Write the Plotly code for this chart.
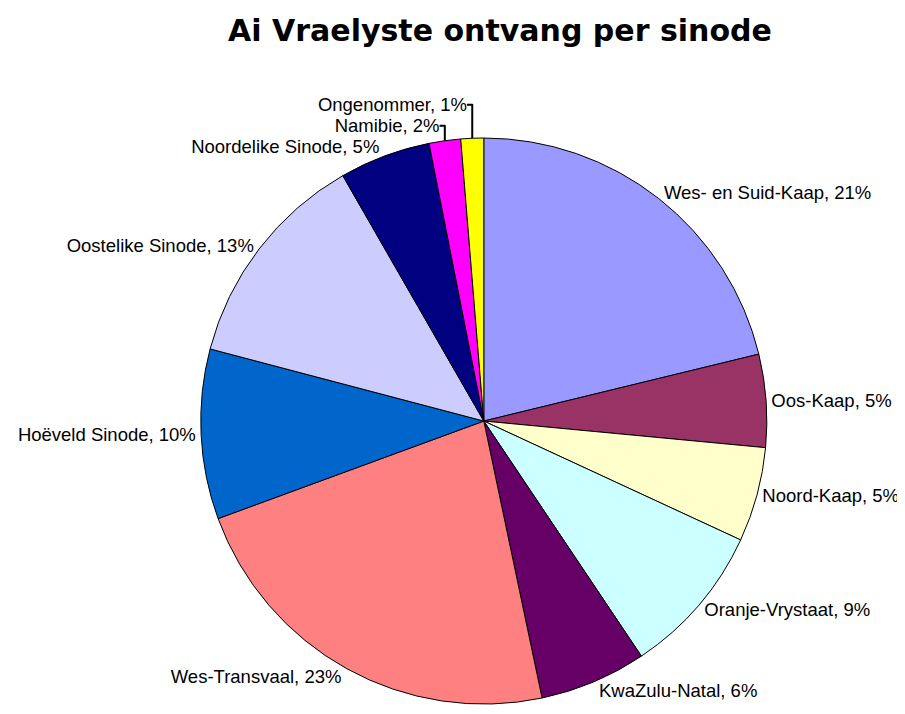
import plotly.graph_objects as go

sinodes = ["Wes- en Suid-Kaap", "Oos-Kaap", "Noord-Kaap", "Oranje-Vrystaat",
           "KwaZulu-Natal", "Wes-Transvaal", "Hoëveld Sinode", "Oostelike Sinode",
           "Noordelike Sinode", "Namibie", "Ongenommer"]
shares = [21.2, 5.3, 5.4, 8.7, 6.1, 22.7, 9.7, 12.6, 5.2, 1.8, 1.3]
colours = ["#9999FF", "#993366", "#FFFFCC", "#CCFFFF", "#660066", "#FF8080",
           "#0066CC", "#CCCCFF", "#000080", "#FF00FF", "#FFFF00"]

fig = go.Figure(go.Pie(
    labels=sinodes, values=shares, sort=False, direction="clockwise", rotation=0,
    marker=dict(colors=colours, line=dict(color="black", width=1)),
    texttemplate="%{label}, %{percent:.0%}", textposition="outside",
    textfont=dict(family="Liberation Sans, Arial", size=18.5, color="black"),
    showlegend=False, hoverinfo="label+percent",
    domain=dict(x=[0.213, 0.8385], y=[0.025, 0.818]),
))
fig.update_layout(
    width=905, height=714, margin=dict(l=0, r=0, t=0, b=0),
    paper_bgcolor="white",
    title=dict(text="<b>Ai Vraelyste ontvang per sinode</b>", x=0.5436, y=0.968,
               xanchor="center", yanchor="middle",
               font=dict(family="DejaVu Sans, Verdana", size=30, color="black")),
)
fig.write_html("out.html")
